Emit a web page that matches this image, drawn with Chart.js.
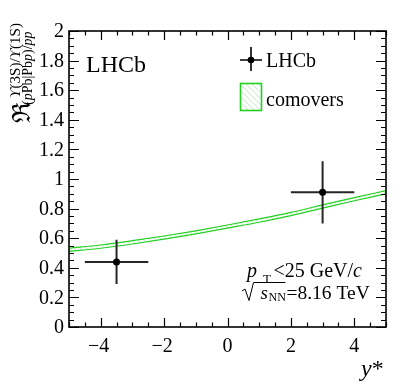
<!DOCTYPE html>
<html><head><meta charset="utf-8">
<script src="https://cdn.jsdelivr.net/npm/chart.js@4/dist/chart.umd.min.js"></script>
<style>html,body{margin:0;padding:0;background:#fff}#wrap{width:407px;height:391px}</style>
</head><body><div id="wrap"><canvas id="c" width="407" height="391"></canvas></div>
<script>
// ---- data ----
const lhcbX = [-3.5, 3];
const lhcbR = [0.44, 0.91];
const lhcbXErr = [1, 1];
const lhcbYErr = [0.15, 0.21];
const bandX = [-5, -4, -3, -2, -1, 0, 1, 2, 3, 4, 5];
const bandLow = [0.511, 0.532, 0.561, 0.594, 0.629, 0.668, 0.708, 0.753, 0.803, 0.853, 0.900];
const bandHigh = [0.532, 0.554, 0.583, 0.615, 0.650, 0.689, 0.730, 0.774, 0.825, 0.874, 0.921];
const xTicks = [-4, -2, 0, 2, 4];
const yTicks = [0, 0.2, 0.4, 0.6, 0.8, 1, 1.2, 1.4, 1.6, 1.8, 2];

const SERIF = "'Liberation Serif', 'DejaVu Serif', serif";
Chart.defaults.font.family = SERIF;
const GREEN = '#22d022';
const canvas = document.getElementById('c');
const ctx0 = canvas.getContext('2d');

function hatch() {
  const c = document.createElement('canvas'); c.width = 6; c.height = 6;
  const g = c.getContext('2d');
  g.strokeStyle = 'rgba(80,210,80,0.45)'; g.lineWidth = 0.8;
  g.beginPath();
  g.moveTo(-3, 3); g.lineTo(3, 9);
  g.moveTo(0, 0); g.lineTo(6, 6);
  g.moveTo(3, -3); g.lineTo(9, 3);
  g.stroke();
  return ctx0.createPattern(c, 'repeat');
}
const PAT = hatch();

const errPlugin = {
  id: 'err',
  beforeDatasetDraw(chart, args) {
    if (args.index !== 2) return;
    const { ctx, scales: { x, y } } = chart;
    ctx.save();
    ctx.strokeStyle = '#262626'; ctx.lineWidth = 2;
    for (let i = 0; i < lhcbX.length; i++) {
      const px = x.getPixelForValue(lhcbX[i]), py = y.getPixelForValue(lhcbR[i]);
      ctx.beginPath();
      ctx.moveTo(x.getPixelForValue(lhcbX[i] - lhcbXErr[i]), py);
      ctx.lineTo(x.getPixelForValue(lhcbX[i] + lhcbXErr[i]), py);
      ctx.moveTo(px, y.getPixelForValue(lhcbR[i] - lhcbYErr[i]));
      ctx.lineTo(px, y.getPixelForValue(lhcbR[i] + lhcbYErr[i]));
      ctx.stroke();
    }
    ctx.restore();
  }
};

const overlay = {
  id: 'overlay',
  afterDraw(chart) {
    const { ctx, chartArea: a, scales: { x, y } } = chart;
    ctx.save();
    // frame
    ctx.strokeStyle = '#000'; ctx.lineWidth = 1.6;
    ctx.strokeRect(a.left, a.top, a.right - a.left, a.bottom - a.top);
    // ticks
    ctx.lineWidth = 1.2;
    ctx.beginPath();
    for (let k = -10; k <= 10; k++) {
      const v = k / 2, px = Math.round(x.getPixelForValue(v)) + 0.5;
      const L = (k % 4 === 0) ? 9 : 4.5;
      ctx.moveTo(px, a.bottom); ctx.lineTo(px, a.bottom - L);
      ctx.moveTo(px, a.top); ctx.lineTo(px, a.top + L);
    }
    for (let k = 0; k <= 40; k++) {
      const v = k * 0.05, py = Math.round(y.getPixelForValue(v)) + 0.5;
      const L = (k % 4 === 0) ? 10 : 5;
      ctx.moveTo(a.left, py); ctx.lineTo(a.left + L, py);
      ctx.moveTo(a.right, py); ctx.lineTo(a.right - L, py);
    }
    ctx.stroke();

    ctx.fillStyle = '#000';
    // tick labels
    ctx.font = '20px ' + SERIF;
    ctx.textAlign = 'right'; ctx.textBaseline = 'middle';
    for (const v of yTicks) ctx.fillText(String(+v.toFixed(1)), a.left - 5, y.getPixelForValue(v) + 1);
    ctx.textAlign = 'center'; ctx.textBaseline = 'alphabetic';
    for (const v of xTicks) ctx.fillText(v < 0 ? '\u2212' + (-v) : String(v), x.getPixelForValue(v) - (v < 0 ? 2 : 0), a.bottom + 25);

    ctx.textBaseline = 'alphabetic';
    ctx.textAlign = 'left';
    // LHCb label
    ctx.font = '24px ' + SERIF;
    ctx.fillText('LHCb', 86, 72);

    // legend: LHCb
    ctx.strokeStyle = '#000'; ctx.lineWidth = 1.6;
    ctx.beginPath();
    ctx.moveTo(240, 60); ctx.lineTo(262, 60);
    ctx.moveTo(251, 47); ctx.lineTo(251, 71);
    ctx.stroke();
    ctx.beginPath(); ctx.arc(251, 60, 3.3, 0, Math.PI * 2); ctx.fill();
    ctx.font = '20px ' + SERIF;
    ctx.fillText('LHCb', 266, 67);
    // legend: comovers
    ctx.fillStyle = PAT;
    ctx.fillRect(241, 84, 20, 26);
    ctx.strokeStyle = GREEN; ctx.lineWidth = 1.6;
    ctx.strokeRect(240.5, 83.5, 21, 27);
    ctx.fillStyle = '#000';
    ctx.fillText('comovers', 266, 106);

    // kinematic text
    ctx.font = 'italic 20px ' + SERIF;
    ctx.fillText('p', 247, 277);
    ctx.font = '13px ' + SERIF;
    ctx.fillText('T', 263, 283);
    ctx.font = '20px ' + SERIF;
    ctx.fillText('<25 GeV/', 273.5, 277);
    let w = ctx.measureText('<25 GeV/').width;
    ctx.font = 'italic 20px ' + SERIF;
    ctx.fillText('c', 273.5 + w, 277);

    // sqrt(s_NN)
    ctx.strokeStyle = '#000'; ctx.lineWidth = 1;
    ctx.beginPath();
    ctx.moveTo(242, 291); ctx.lineTo(245, 289); ctx.lineTo(249, 300.5); ctx.lineTo(253.5, 282.5); ctx.lineTo(285.5, 282.5);
    ctx.stroke();
    ctx.font = 'italic 19px ' + SERIF;
    ctx.fillText('s', 260.5, 298.5);
    ctx.font = '12px ' + SERIF;
    ctx.fillText('NN', 268.5, 301);
    ctx.font = '19.5px ' + SERIF;
    ctx.fillText('=8.16 TeV', 286.5, 298.5);

    // x title
    ctx.font = 'italic 24px ' + SERIF;
    ctx.fillText('y', 361, 376);
    const wy = ctx.measureText('y').width;
    ctx.font = '24px ' + SERIF;
    ctx.fillText('*', 361 + wy, 376);

    // y title (rotated)
    ctx.save();
    ctx.translate(0, 123);
    ctx.rotate(-Math.PI / 2);
    ctx.font = "25px 'DejaVu Serif', " + SERIF;
    ctx.fillText('\u211C', 0, 30);
    let sx = 25;
    const sup = [['\u03D2', 1], ['(3S)/', 0], ['\u03D2', 1], ['(1S)', 0]];
    for (const [t, it] of sup) {
      ctx.font = (it ? 'italic ' : '') + '15px ' + SERIF;
      ctx.fillText(t, sx, 19.5);
      sx += ctx.measureText(t).width;
    }
    const sub = [['(', 0], ['p', 1], ['Pb|Pb', 0], ['p', 1], [')/', 0], ['pp', 1]];
    let bx = 18;
    for (const [t, it] of sub) {
      ctx.font = (it ? 'italic ' : '') + '14px ' + SERIF;
      ctx.fillText(t, bx, 32);
      bx += ctx.measureText(t).width;
    }
    ctx.restore();
    ctx.restore();
  }
};

new Chart(canvas, {
  type: 'line',
  data: {
    datasets: [
      { label: 'low', data: bandX.map((v, i) => ({ x: v, y: bandLow[i] })), borderColor: GREEN, borderWidth: 1.2,
        pointRadius: 0, tension: 0.4, cubicInterpolationMode: 'monotone', fill: false, order: 2 },
      { label: 'high', data: bandX.map((v, i) => ({ x: v, y: bandHigh[i] })), borderColor: GREEN, borderWidth: 1.2,
        pointRadius: 0, tension: 0.4, cubicInterpolationMode: 'monotone', fill: '-1', backgroundColor: PAT, order: 1 },
      { type: 'scatter', label: 'LHCb', data: lhcbX.map((v, i) => ({ x: v, y: lhcbR[i] })),
        pointRadius: 3.5, pointBackgroundColor: '#000', pointBorderWidth: 0, backgroundColor: '#000', order: 0 }
    ]
  },
  options: {
    responsive: false, animation: false, devicePixelRatio: 1,
    layout: { padding: { left: 0, top: 31, right: 21, bottom: 0 } },
    plugins: { legend: { display: false }, tooltip: { enabled: false } },
    scales: {
      x: {
        type: 'linear', min: -5, max: 5,
        grid: { display: false, drawTicks: false }, border: { display: false },
        afterBuildTicks: s => { s.ticks = xTicks.map(v => ({ value: v })); },
        afterFit: s => { s.height = 64; },
        ticks: { display: false }
      },
      y: {
        type: 'linear', min: 0, max: 2,
        grid: { display: false, drawTicks: false }, border: { display: false },
        afterBuildTicks: s => { s.ticks = yTicks.map(v => ({ value: v })); },
        afterFit: s => { s.width = 69; },
        ticks: { display: false }
      }
    }
  },
  plugins: [errPlugin, overlay]
});
</script>
</body></html>
